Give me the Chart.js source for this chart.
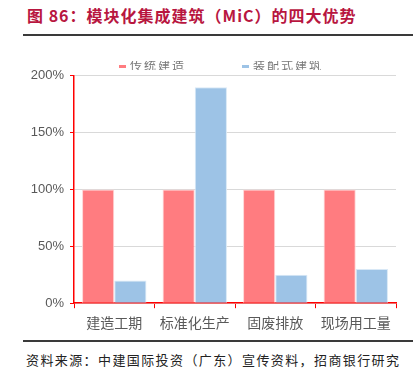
<!DOCTYPE html>
<html>
<head>
<meta charset="utf-8">
<script src="https://cdn.jsdelivr.net/npm/chart.js@4"></script>
<style>
  body { margin: 0; background: #fff; width: 413px; height: 377px; position: relative; overflow: hidden; font-family: "Noto Sans CJK SC", sans-serif; }
  #title { position: absolute; left: 27px; top: 3px; font-size: 16px; font-weight: bold; color: #b8163f; letter-spacing: 1px; white-space: nowrap; }
  .rule { position: absolute; left: 23px; right: 0; height: 2px; background: #3a3a3a; }
  #myChart { position: absolute; left: 0; top: 62px; }
  #legend { position: absolute; left: 0; top: 61px; width: 413px; height: 9px; overflow: hidden; }
  #legend .item { position: absolute; top: -3px; font-size: 12px; line-height: 14px; color: #777; letter-spacing: 2px; white-space: nowrap; }
  #legend .swatch { display: inline-block; width: 7px; height: 3px; margin-right: 4px; vertical-align: middle; }
  #source { position: absolute; left: 26px; top: 350px; font-size: 13px; color: #222; letter-spacing: 1.4px; white-space: nowrap; }
</style>
</head>
<body>
<div id="title">图 86：模块化集成建筑（MiC）的四大优势</div>
<div class="rule" style="top:34px"></div>
<canvas id="myChart" width="413" height="275"></canvas>
<div id="legend"></div>
<div class="rule" style="top:340px"></div>
<div id="source">资料来源：中建国际投资（广东）宣传资料，招商银行研究</div>
<script>
const labels = ['建造工期', '标准化生产', '固废排放', '现场用工量'];
const traditional = [100, 100, 100, 100];
const prefab = [20, 190, 25, 30];
const yTicks = [0, 50, 100, 150, 200];

const datasets = [
  {
    label: '传统建造',
    data: traditional,
    backgroundColor: '#ff7c80',
    borderColor: '#ffd6d6',
    borderWidth: 1,
    barPercentage: 1.0,
    categoryPercentage: 0.8
  },
  {
    label: '装配式建筑',
    data: prefab,
    backgroundColor: '#9dc3e6',
    borderColor: '#d8e8f6',
    borderWidth: 1,
    barPercentage: 1.0,
    categoryPercentage: 0.8
  }
];

const myChart = new Chart(document.getElementById('myChart'), {
  type: 'bar',
  data: { labels, datasets },
  options: {
    responsive: false,
    animation: false,
    layout: { padding: { left: 0, right: 17, top: 7, bottom: 0 } },
    plugins: {
      tooltip: { enabled: false },
      legend: { display: false }
    },
    scales: {
      x: {
        border: { color: '#ff0000', width: 1.5 },
        grid: { offset: true, drawOnChartArea: false, drawTicks: true, tickLength: 5, color: '#ff0000' },
        ticks: { color: '#595959', padding: 6, font: { size: 14, family: '"Noto Sans CJK SC"' } }
      },
      y: {
        min: 0,
        max: 200,
        afterBuildTicks: s => { s.ticks = yTicks.map(v => ({ value: v })); },
        afterFit: s => { s.width = 74; },
        border: { color: '#ff0000', width: 1.5 },
        grid: { color: '#d9d9d9', tickColor: '#ff0000', tickLength: 4 },
        ticks: {
          color: '#595959',
          padding: 6,
          font: { size: 13, family: 'Arial, "Liberation Sans"' },
          callback: v => v + '%'
        }
      }
    }
  }
});

// legend sits above the plot, its upper half clipped as in the source image
const legendX = [119, 242];
const legendEl = document.getElementById('legend');
datasets.forEach((ds, i) => {
  const item = document.createElement('div');
  item.className = 'item';
  item.style.left = legendX[i] + 'px';
  item.innerHTML = '<span class="swatch" style="background:' + ds.backgroundColor + '"></span>' + ds.label;
  legendEl.appendChild(item);
});
</script>
</body>
</html>
